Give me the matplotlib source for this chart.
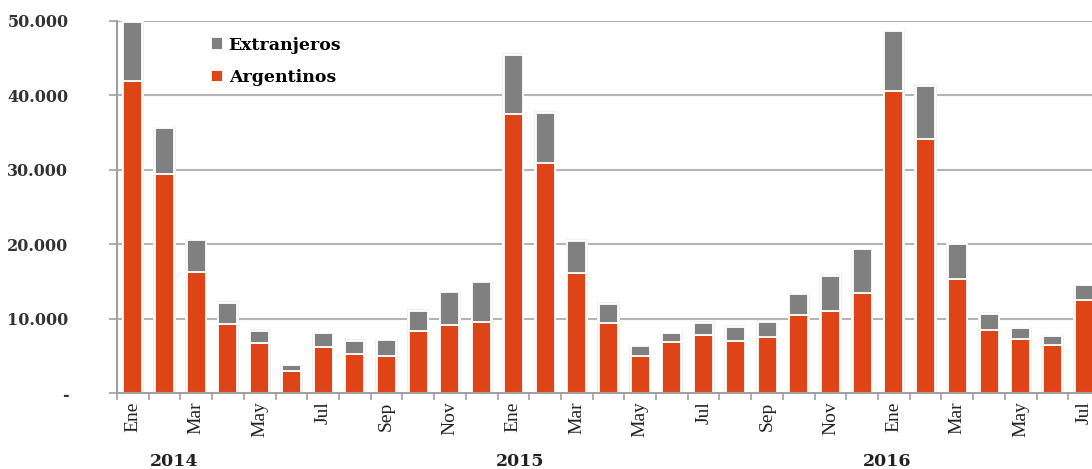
import matplotlib
matplotlib.use("Agg")
import matplotlib.pyplot as plt
import numpy as np

# Datos
meses = ['Ene', 'Feb', 'Mar', 'Abr', 'May', 'Jun', 'Jul', 'Ago', 'Sep', 'Oct', 'Nov', 'Dic'] * 2 + \
        ['Ene', 'Feb', 'Mar', 'Abr', 'May', 'Jun', 'Jul']
anios = ['2014', '2015', '2016']
argentinos = [41900, 29400, 16200, 9300, 6700, 2950, 6250, 5300, 5000, 8400, 9100, 9500,
              37500, 30900, 16100, 9400, 4950, 6850, 7850, 7050, 7550, 10500, 11000, 13500,
              40600, 34100, 15300, 8500, 7300, 6450, 12550]
extranjeros = [8000, 6200, 4350, 2800, 1650, 800, 1800, 1700, 2100, 2650, 4450, 5400,
               7950, 6800, 4350, 2600, 1300, 1200, 1600, 1850, 2000, 2800, 4750, 5850,
               8000, 7200, 4700, 2150, 1400, 1150, 1950]

naranja = '#DF4417'
gris = '#808080'

fig = plt.figure(figsize=(10.92, 4.69), dpi=100)
ax = fig.add_axes([117 / 1092, 76 / 469, 983 / 1092, 372 / 469])

x = np.arange(len(argentinos))
arg = np.array(argentinos)
ext = np.array(extranjeros)

# líneas de la grilla por detrás
for v in range(10000, 50001, 10000):
    ax.axhline(v, color='#b4b4b4', lw=1.5, zorder=0)

# halo gris claro alrededor de las barras
ax.bar(x, arg + ext + 200, width=0.7, color='#f0f0f0', zorder=1)

ax.bar(x, arg, width=0.6, color=naranja, edgecolor='white', linewidth=1.3,
       label='Argentinos', zorder=2)
ax.bar(x, ext, bottom=arg, width=0.6, color=gris, edgecolor='white', linewidth=1.3,
       label='Extranjeros', zorder=2)

ax.set_xlim(-0.5, len(x) - 0.5)
ax.set_ylim(0, 50000)

# eje Y
ax.set_yticks(range(0, 50001, 10000))
ax.set_yticklabels(['-'] + [f'{v:,}'.replace(',', '.') for v in range(10000, 50001, 10000)],
                   fontfamily='DejaVu Serif', fontweight='bold', fontsize=11.5, color='#333333')
ax.tick_params(axis='y', length=6, color='#a0a0a0', pad=29, width=1.2)

# eje X: etiquetas cada dos meses
ax.set_xticks(x)
ax.set_xticklabels([m if i % 2 == 0 else '' for i, m in enumerate(meses)],
                   rotation=90, fontfamily='Liberation Serif', fontsize=14, color='#222222')
ax.tick_params(axis='x', direction='in', length=4, color='#a0a0a0', pad=6)
ax.set_xticks(np.arange(-0.5, len(x), 1), minor=True)
ax.tick_params(axis='x', which='minor', direction='out', length=5, color='#a0a0a0', width=1.2)

for s in ['top', 'right']:
    ax.spines[s].set_visible(False)
for s in ['left', 'bottom']:
    ax.spines[s].set_color('#a0a0a0')
    ax.spines[s].set_linewidth(1.5)

# años debajo de los meses
for pos, anio in zip([1.3, 12.2, 23.8], anios):
    ax.text(pos, -9200, anio, ha='center', va='center', fontfamily='DejaVu Serif',
            fontweight='bold', fontsize=12.5, color='#222222', clip_on=False)

# leyenda
handles, labels = ax.get_legend_handles_labels()
ax.legend(handles[::-1], labels[::-1], loc='upper left', bbox_to_anchor=(0.08, 1.0),
          frameon=False, prop={'family': 'DejaVu Serif', 'weight': 'bold', 'size': 12.5},
          handlelength=0.7, handleheight=0.7, handletextpad=0.3, labelspacing=0.9)

fig.savefig('out.png', dpi=100)
